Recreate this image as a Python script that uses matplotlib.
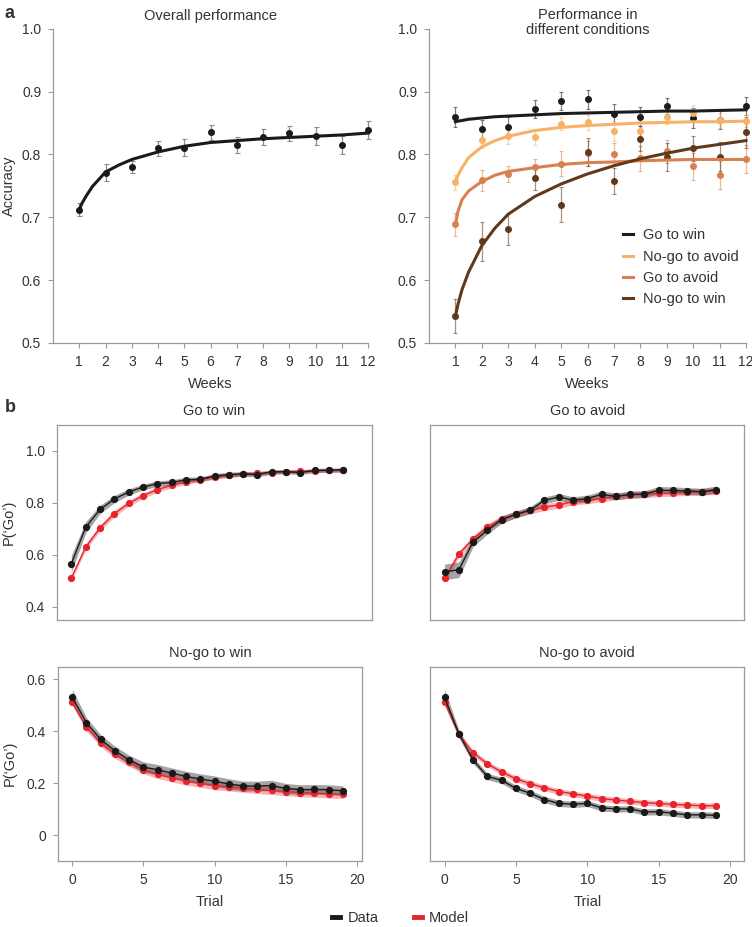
"""
Weekly accuracy (a) and trial-wise P('Go') data vs model (b).
"""

import matplotlib
matplotlib.use("Agg")
import matplotlib.pyplot as plt
from matplotlib.lines import Line2D
import numpy as np

plt.rcParams["font.family"] = ["Liberation Sans", "DejaVu Sans"]
plt.rcParams["text.color"] = "#333333"
plt.rcParams["axes.labelcolor"] = "#333333"

# ---- panel a: weekly accuracy ----
weeks = [1, 2, 3, 4, 5, 6, 7, 8, 9, 10, 11, 12]
overall_acc = [0.712, 0.771, 0.780, 0.810, 0.811, 0.835, 0.815, 0.828, 0.834, 0.829, 0.815, 0.839]
overall_err = [0.010, 0.014, 0.010, 0.012, 0.014, 0.012, 0.013, 0.013, 0.012, 0.014, 0.014, 0.014]

fit_weeks = [1, 1.1, 1.25, 1.5, 2, 2.5, 3, 4, 5, 6, 7, 8, 9, 10, 11, 12]
overall_fit = [0.712, 0.722, 0.733, 0.749, 0.772, 0.783, 0.792, 0.804, 0.813, 0.819,
               0.822, 0.825, 0.827, 0.829, 0.831, 0.834]

cond_names = ["Go to win", "No-go to avoid", "Go to avoid", "No-go to win"]
cond_colors = ["#1c1c1c", "#f7b267", "#d9804f", "#60391c"]

gtw_acc = [0.859, 0.840, 0.844, 0.872, 0.885, 0.888, 0.865, 0.860, 0.877, 0.858, 0.855, 0.877]
gtw_err = [0.016, 0.015, 0.015, 0.014, 0.014, 0.015, 0.015, 0.015, 0.013, 0.016, 0.015, 0.014]
gtw_fit = [0.852, 0.853, 0.854, 0.856, 0.858, 0.860, 0.861, 0.863, 0.865, 0.866,
           0.867, 0.868, 0.869, 0.869, 0.870, 0.871]

nga_acc = [0.756, 0.823, 0.829, 0.828, 0.849, 0.851, 0.837, 0.837, 0.860, 0.866, 0.854, 0.853]
nga_err = [0.012, 0.012, 0.012, 0.013, 0.010, 0.012, 0.015, 0.013, 0.012, 0.013, 0.012, 0.010]
nga_fit = [0.757, 0.767, 0.779, 0.795, 0.812, 0.822, 0.829, 0.838, 0.843, 0.846,
           0.848, 0.850, 0.851, 0.852, 0.852, 0.853]

gta_acc = [0.689, 0.759, 0.769, 0.780, 0.785, 0.802, 0.801, 0.794, 0.805, 0.781, 0.767, 0.793]
gta_err = [0.018, 0.017, 0.013, 0.013, 0.020, 0.020, 0.017, 0.020, 0.018, 0.021, 0.022, 0.022]
gta_fit = [0.689, 0.710, 0.728, 0.742, 0.757, 0.767, 0.773, 0.779, 0.784, 0.787,
           0.788, 0.790, 0.791, 0.792, 0.792, 0.792]

ngw_acc = [0.543, 0.662, 0.681, 0.763, 0.720, 0.804, 0.758, 0.825, 0.796, 0.810, 0.796, 0.835]
ngw_err = [0.027, 0.031, 0.025, 0.020, 0.028, 0.022, 0.021, 0.020, 0.022, 0.020, 0.023, 0.025]
ngw_fit = [0.543, 0.562, 0.585, 0.613, 0.655, 0.683, 0.705, 0.733, 0.753, 0.769,
           0.782, 0.793, 0.802, 0.810, 0.816, 0.822]

# ---- panel b: P('Go') per trial ----
trials = list(range(20))

gw_data = [0.566, 0.706, 0.775, 0.815, 0.842, 0.861, 0.874, 0.879, 0.889, 0.891,
           0.904, 0.909, 0.912, 0.909, 0.920, 0.920, 0.917, 0.925, 0.926, 0.927]
gw_data_sem = [0.032, 0.022, 0.016, 0.014, 0.012, 0.011, 0.011, 0.010, 0.010, 0.009,
               0.009, 0.009, 0.009, 0.009, 0.008, 0.008, 0.008, 0.008, 0.008, 0.008]
gw_model = [0.511, 0.630, 0.704, 0.759, 0.798, 0.828, 0.851, 0.868, 0.881, 0.890,
            0.899, 0.906, 0.911, 0.914, 0.917, 0.920, 0.922, 0.923, 0.925, 0.926]
gw_model_sem = [0.010, 0.012, 0.012, 0.012, 0.011, 0.011, 0.010, 0.010, 0.009, 0.009,
                0.008, 0.008, 0.008, 0.008, 0.008, 0.007, 0.007, 0.007, 0.007, 0.007]

ga_data = [0.535, 0.543, 0.650, 0.695, 0.736, 0.756, 0.773, 0.810, 0.823, 0.811,
           0.817, 0.833, 0.825, 0.833, 0.834, 0.849, 0.848, 0.846, 0.843, 0.851]
ga_data_sem = [0.030, 0.030, 0.018, 0.015, 0.014, 0.013, 0.013, 0.013, 0.013, 0.013,
               0.013, 0.013, 0.013, 0.013, 0.013, 0.014, 0.014, 0.013, 0.013, 0.014]
ga_model = [0.510, 0.603, 0.662, 0.708, 0.738, 0.756, 0.771, 0.784, 0.792, 0.805,
            0.810, 0.817, 0.825, 0.830, 0.833, 0.837, 0.839, 0.842, 0.843, 0.846]
ga_model_sem = [0.012, 0.013, 0.013, 0.013, 0.013, 0.013, 0.013, 0.013, 0.013, 0.013,
                0.013, 0.013, 0.013, 0.013, 0.013, 0.013, 0.013, 0.013, 0.013, 0.013]

nw_data = [0.532, 0.433, 0.369, 0.325, 0.290, 0.262, 0.252, 0.239, 0.226, 0.216,
           0.208, 0.197, 0.189, 0.189, 0.191, 0.180, 0.175, 0.176, 0.175, 0.171]
nw_data_sem = [0.030, 0.020, 0.018, 0.018, 0.018, 0.020, 0.020, 0.020, 0.020, 0.020,
               0.020, 0.020, 0.019, 0.019, 0.020, 0.019, 0.019, 0.019, 0.019, 0.019]
nw_model = [0.513, 0.415, 0.355, 0.311, 0.281, 0.252, 0.234, 0.221, 0.209, 0.200,
            0.191, 0.186, 0.181, 0.176, 0.172, 0.168, 0.164, 0.162, 0.159, 0.157]
nw_model_sem = [0.012, 0.014, 0.014, 0.015, 0.016, 0.016, 0.016, 0.016, 0.016, 0.016,
                0.016, 0.016, 0.016, 0.016, 0.016, 0.016, 0.016, 0.016, 0.016, 0.016]

na_data = [0.532, 0.391, 0.289, 0.226, 0.211, 0.180, 0.161, 0.137, 0.122, 0.119,
           0.122, 0.105, 0.101, 0.101, 0.089, 0.090, 0.084, 0.078, 0.078, 0.076]
na_data_sem = [0.030, 0.016, 0.013, 0.012, 0.012, 0.012, 0.012, 0.012, 0.012, 0.012,
               0.012, 0.012, 0.012, 0.012, 0.012, 0.012, 0.012, 0.012, 0.012, 0.012]
na_model = [0.514, 0.388, 0.317, 0.275, 0.243, 0.217, 0.198, 0.182, 0.168, 0.159,
            0.150, 0.141, 0.135, 0.130, 0.125, 0.122, 0.118, 0.116, 0.113, 0.113]
na_model_sem = [0.011, 0.011, 0.011, 0.011, 0.011, 0.011, 0.011, 0.011, 0.011, 0.011,
                0.011, 0.011, 0.011, 0.011, 0.011, 0.011, 0.011, 0.011, 0.011, 0.011]

SPINE = "#9a9a9a"
DATA_C = "#1a1a1a"
MODEL_C = "#e8232b"
TICK_FS = 10
LABEL_FS = 10.5

fig = plt.figure(figsize=(7.52, 9.27), dpi=100)


def style_top(ax):
    for s in ("top", "right"):
        ax.spines[s].set_visible(False)
    for s in ("left", "bottom"):
        ax.spines[s].set_color(SPINE)
        ax.spines[s].set_linewidth(0.9)
    ax.set_xlim(0, 12)
    ax.set_ylim(0.5, 1.0)
    ax.set_xticks(weeks)
    ax.set_yticks([0.5, 0.6, 0.7, 0.8, 0.9, 1.0])
    ax.set_yticklabels(["0.5", "0.6", "0.7", "0.8", "0.9", "1.0"])
    ax.tick_params(labelsize=TICK_FS, colors=SPINE, labelcolor="#333333",
                   length=3.5, width=0.8, pad=5)
    ax.set_xlabel("Weeks", fontsize=LABEL_FS, labelpad=6)


# a, left: overall
ax1 = fig.add_axes([0.0705, 0.630, 0.419, 0.339])
style_top(ax1)
ax1.errorbar(weeks, overall_acc, yerr=overall_err, fmt="none", ecolor="#8c8c8c",
             elinewidth=0.9, capsize=1.8, capthick=0.8, zorder=2, clip_on=False)
ax1.plot(fit_weeks, overall_fit, color="#1a1a1a", lw=2.2, zorder=3, clip_on=False)
ax1.plot(weeks, overall_acc, "o", color="#1a1a1a", ms=4, zorder=4, clip_on=False)
ax1.set_ylabel("Accuracy", fontsize=LABEL_FS, labelpad=4)
ax1.set_title("Overall performance", fontsize=10.5, pad=6)

# a, right: conditions
ax2 = fig.add_axes([0.5705, 0.630, 0.4215, 0.339])
style_top(ax2)
accs = [gtw_acc, nga_acc, gta_acc, ngw_acc]
errs = [gtw_err, nga_err, gta_err, ngw_err]
fits = [gtw_fit, nga_fit, gta_fit, ngw_fit]
for name, col, acc, err in zip(cond_names, cond_colors, accs, errs):
    ax2.errorbar(weeks, acc, yerr=err, fmt="none", ecolor=col, alpha=0.55,
                 elinewidth=0.9, capsize=1.6, capthick=0.8, zorder=2, clip_on=False)
    ax2.plot(weeks, acc, "o", color=col, ms=4, zorder=3, clip_on=False)
for name, col, fit in zip(cond_names, cond_colors, fits):
    ax2.plot(fit_weeks, fit, color=col, lw=2.2, zorder=4, label=name, clip_on=False)
ax2.text(0.5, 1.0 + 6.5 / 314, "Performance in\ndifferent conditions", transform=ax2.transAxes,
         ha="center", va="center", fontsize=10.5, linespacing=1.1)
leg = ax2.legend(loc="lower right", bbox_to_anchor=(1.02, 0.075), frameon=False,
                 fontsize=10.5, handlelength=0.7, handletextpad=0.7, labelspacing=0.5)
for h in leg.get_lines():
    h.set_linewidth(2.2)

# b panels
b_axes = {
    "Go to win": ([0.0758, 0.3312, 0.4189, 0.2104], gw_data, gw_data_sem, gw_model, gw_model_sem),
    "Go to avoid": ([0.5722, 0.3312, 0.4176, 0.2104], ga_data, ga_data_sem, ga_model, ga_model_sem),
    "No-go to win": ([0.0771, 0.0712, 0.4043, 0.2098], nw_data, nw_data_sem, nw_model, nw_model_sem),
    "No-go to avoid": ([0.5722, 0.0712, 0.4176, 0.2098], na_data, na_data_sem, na_model, na_model_sem),
}
b_xmax = [21, 21, 20.35, 21]

for i, (title, (rect, d, dsem, m, msem)) in enumerate(b_axes.items()):
    ax = fig.add_axes(rect)
    d, dsem, m, msem = map(np.asarray, (d, dsem, m, msem))
    ax.fill_between(trials, m - msem, m + msem, color=MODEL_C, alpha=0.35, lw=0, zorder=1)
    ax.fill_between(trials, d - dsem, d + dsem, color="#4a4a4a", alpha=0.5, lw=0, zorder=2)
    ax.plot(trials, m, "-o", color=MODEL_C, lw=1.0, ms=4.2, zorder=3)
    ax.plot(trials, d, "-o", color=DATA_C, lw=1.0, ms=4.2, zorder=4)
    for s in ax.spines.values():
        s.set_color(SPINE)
        s.set_linewidth(0.9)
    ax.set_xlim(-1, b_xmax[i])
    if i < 2:
        ax.set_ylim(0.35, 1.1)
        ax.set_yticks([0.4, 0.6, 0.8, 1.0])
        ax.set_yticklabels(["0.4", "0.6", "0.8", "1.0"])
        ax.set_xticks([])
    else:
        ax.set_ylim(-0.1, 0.65)
        ax.set_yticks([0, 0.2, 0.4, 0.6])
        ax.set_yticklabels(["0", "0.2", "0.4", "0.6"])
        ax.set_xticks([0, 5, 10, 15, 20])
        ax.set_xlabel("Trial", fontsize=LABEL_FS, labelpad=6)
    if i % 2 == 1:
        ax.set_yticks([])
    else:
        ax.set_ylabel("P(\u2018Go\u2019)", fontsize=LABEL_FS, labelpad=7)
    ax.tick_params(labelsize=TICK_FS, colors=SPINE, labelcolor="#333333",
                   length=3.5, width=0.8, pad=5)
    ax.set_title(title, fontsize=10.5, pad=7)

fig.legend(handles=[Line2D([], [], color=DATA_C, lw=3.5), Line2D([], [], color=MODEL_C, lw=3.5)],
           labels=["Data", "Model"], loc="lower center", bbox_to_anchor=(0.533, -0.012),
           ncol=2, frameon=False, fontsize=10.5, handlelength=0.55, handletextpad=0.5,
           columnspacing=2.4)

fig.text(0.006, 0.985, "a", fontsize=13, fontweight="bold", va="center")
fig.text(0.006, 0.560, "b", fontsize=13, fontweight="bold", va="center")

fig.savefig("out.png", dpi=100, facecolor="white")
